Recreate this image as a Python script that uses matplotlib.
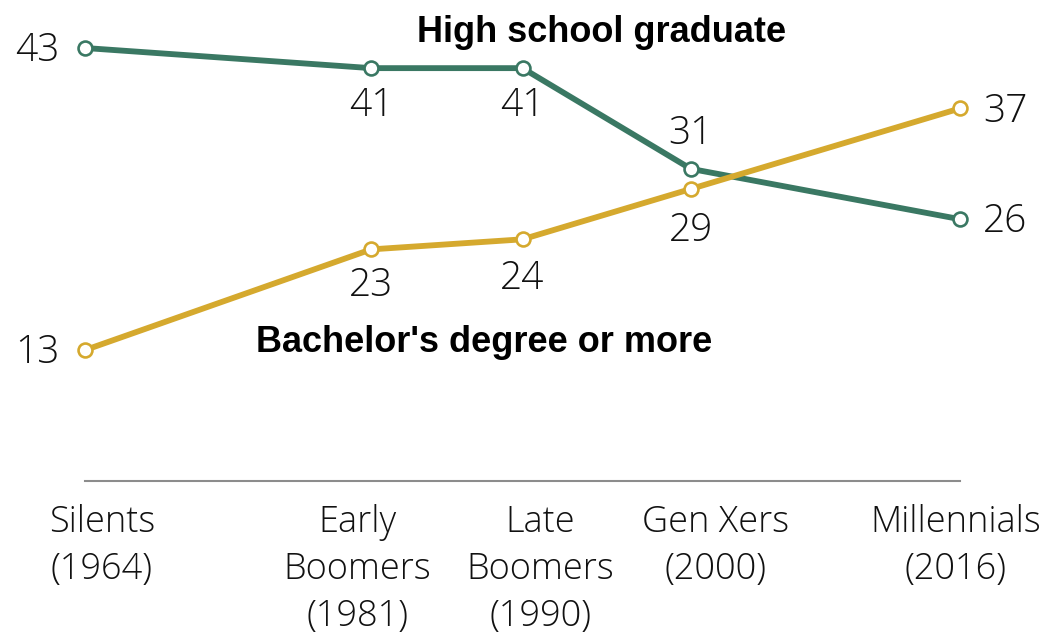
import matplotlib
matplotlib.use("Agg")
import matplotlib.pyplot as plt

# ---- data ----
years = [1964, 1981, 1990, 2000, 2016]
generations = ["Silents\n(1964)", "Early\nBoomers\n(1981)", "Late\nBoomers\n(1990)",
               "Gen Xers\n(2000)", "Millennials\n(2016)"]
high_school = [43, 41, 41, 31, 26]
bachelors = [13, 23, 24, 29, 37]

GREEN = "#3a7863"
GOLD = "#d5a92e"
NUM_FONT = ["Open Sans", "DejaVu Sans"]
BOLD_FONT = ["Liberation Sans", "DejaVu Sans"]

W, H = 1049, 635
fig = plt.figure(figsize=(W / 100, H / 100), dpi=100)
# axes spans x 85..960 px, y 48..481 px (from top)
ax = fig.add_axes([85 / W, (H - 481) / H, 875 / W, 433 / H])
ax.set_xlim(1964, 2016)
ax.set_ylim(0, 43)
ax.axis("off")

for vals, col in [(high_school, GREEN), (bachelors, GOLD)]:
    ax.plot(years, vals, color=col, lw=4.2, marker="o", ms=10,
            mfc="white", mec=col, mew=1.9, clip_on=False, zorder=3,
            solid_capstyle="butt")

# baseline
ax.plot([years[0], years[-1]], [0, 0], color="#8c8c8c", lw=1.5, clip_on=False)

# value labels: (dx, dy) offsets in pixels, converted to points
def px(v):
    return v * 72 / 100

hs_off = [(-48, -3), (0, -38), (0, -38), (0, 35), (45, -3)]
ba_off = [(-48, -3), (0, -36), (0, -39), (0, -42), (45, -3)]
for vals, offs in [(high_school, hs_off), (bachelors, ba_off)]:
    for x, v, (dx, dy) in zip(years, vals, offs):
        ax.annotate(str(v), (x, v), xytext=(px(dx), px(dy)),
                    textcoords="offset points", ha="center", va="center",
                    fontsize=28, family=NUM_FONT, fontweight="light",
                    color="#111111")

# series labels
fig.text(602 / W, 1 - 32 / H, "High school graduate", ha="center", va="center",
         fontsize=26, fontweight="bold", family=BOLD_FONT)
fig.text(484 / W, 1 - 342 / H, "Bachelor's degree or more", ha="center", va="center",
         fontsize=26, fontweight="bold", family=BOLD_FONT)

# category labels
label_dx = [17, -14, 18, 25, -4]
for x, lab, dx in zip(years, generations, label_dx):
    ax.annotate(lab, (x, 0), xytext=(px(dx), px(-23)), textcoords="offset points",
                ha="center", va="top", fontsize=26, family=NUM_FONT,
                fontweight="light", color="#111111", linespacing=1.35,
                annotation_clip=False)

fig.savefig("out.png", dpi=100, facecolor="white")
